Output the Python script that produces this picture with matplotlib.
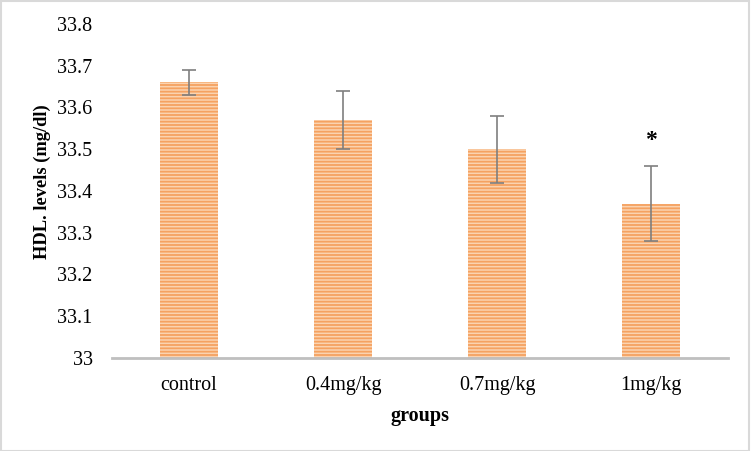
import matplotlib
matplotlib.use("Agg")
import matplotlib.pyplot as plt
from matplotlib.patches import Rectangle

# Data
groups = ["control", "0.4mg/kg", "0.7mg/kg", "1mg/kg"]
hdl = [33.66, 33.57, 33.50, 33.37]
hdl_err = [0.03, 0.07, 0.08, 0.09]
signif = ["", "", "", "*"]

plt.rcParams["font.family"] = ["Liberation Serif", "DejaVu Serif"]
plt.rcParams["hatch.linewidth"] = 1.3

fig = plt.figure(figsize=(7.51, 4.51), dpi=100)
ax = fig.add_axes([112/751, 93/451, 616/751, 334/451])

# Bars with horizontal stripes
x = range(len(groups))
ax.bar(x, [v - 33 for v in hdl], bottom=33, width=0.38,
       color="#FBD3B0", edgecolor="#F5A261", hatch="-----", linewidth=0)
ax.errorbar(x, hdl, yerr=hdl_err, fmt="none", ecolor="#7F7F7F",
            elinewidth=1.2, capsize=5, capthick=1.2)

# Significance marks
for i, s in enumerate(signif):
    if s:
        ax.text(i, hdl[i] + hdl_err[i] + 0.062, s, ha="center", va="center",
                fontsize=17, fontweight="bold")

# Axes
ax.set_xlim(-0.5, len(groups) - 0.5)
ax.set_ylim(33, 33.8)
ax.set_yticks([33 + 0.1 * k for k in range(9)])
ax.set_yticklabels(["33"] + ["%.1f" % (33 + 0.1 * k) for k in range(1, 9)])
ax.set_xticks(list(x))
ax.set_xticklabels(groups)
ax.tick_params(axis="both", length=0, labelsize=14.5)
ax.tick_params(axis="x", pad=13)
ax.tick_params(axis="y", pad=14)
for side in ["top", "right", "left"]:
    ax.spines[side].set_visible(False)
ax.spines["bottom"].set_color("#BFBFBF")
ax.spines["bottom"].set_linewidth(2)

ax.set_xlabel("groups", fontsize=14.5, fontweight="bold", labelpad=8)
ax.set_ylabel("HDL. levels (mg/dl)", fontsize=13.3, fontweight="bold")
ax.yaxis.set_label_coords(-0.099, 0.527)

# Outer frame
fig.patches.append(Rectangle((0.001, 0.001), 0.997, 0.996, transform=fig.transFigure,
                             fill=False, edgecolor="#D9D9D9", linewidth=1.5))

fig.savefig("out.png", dpi=100)
